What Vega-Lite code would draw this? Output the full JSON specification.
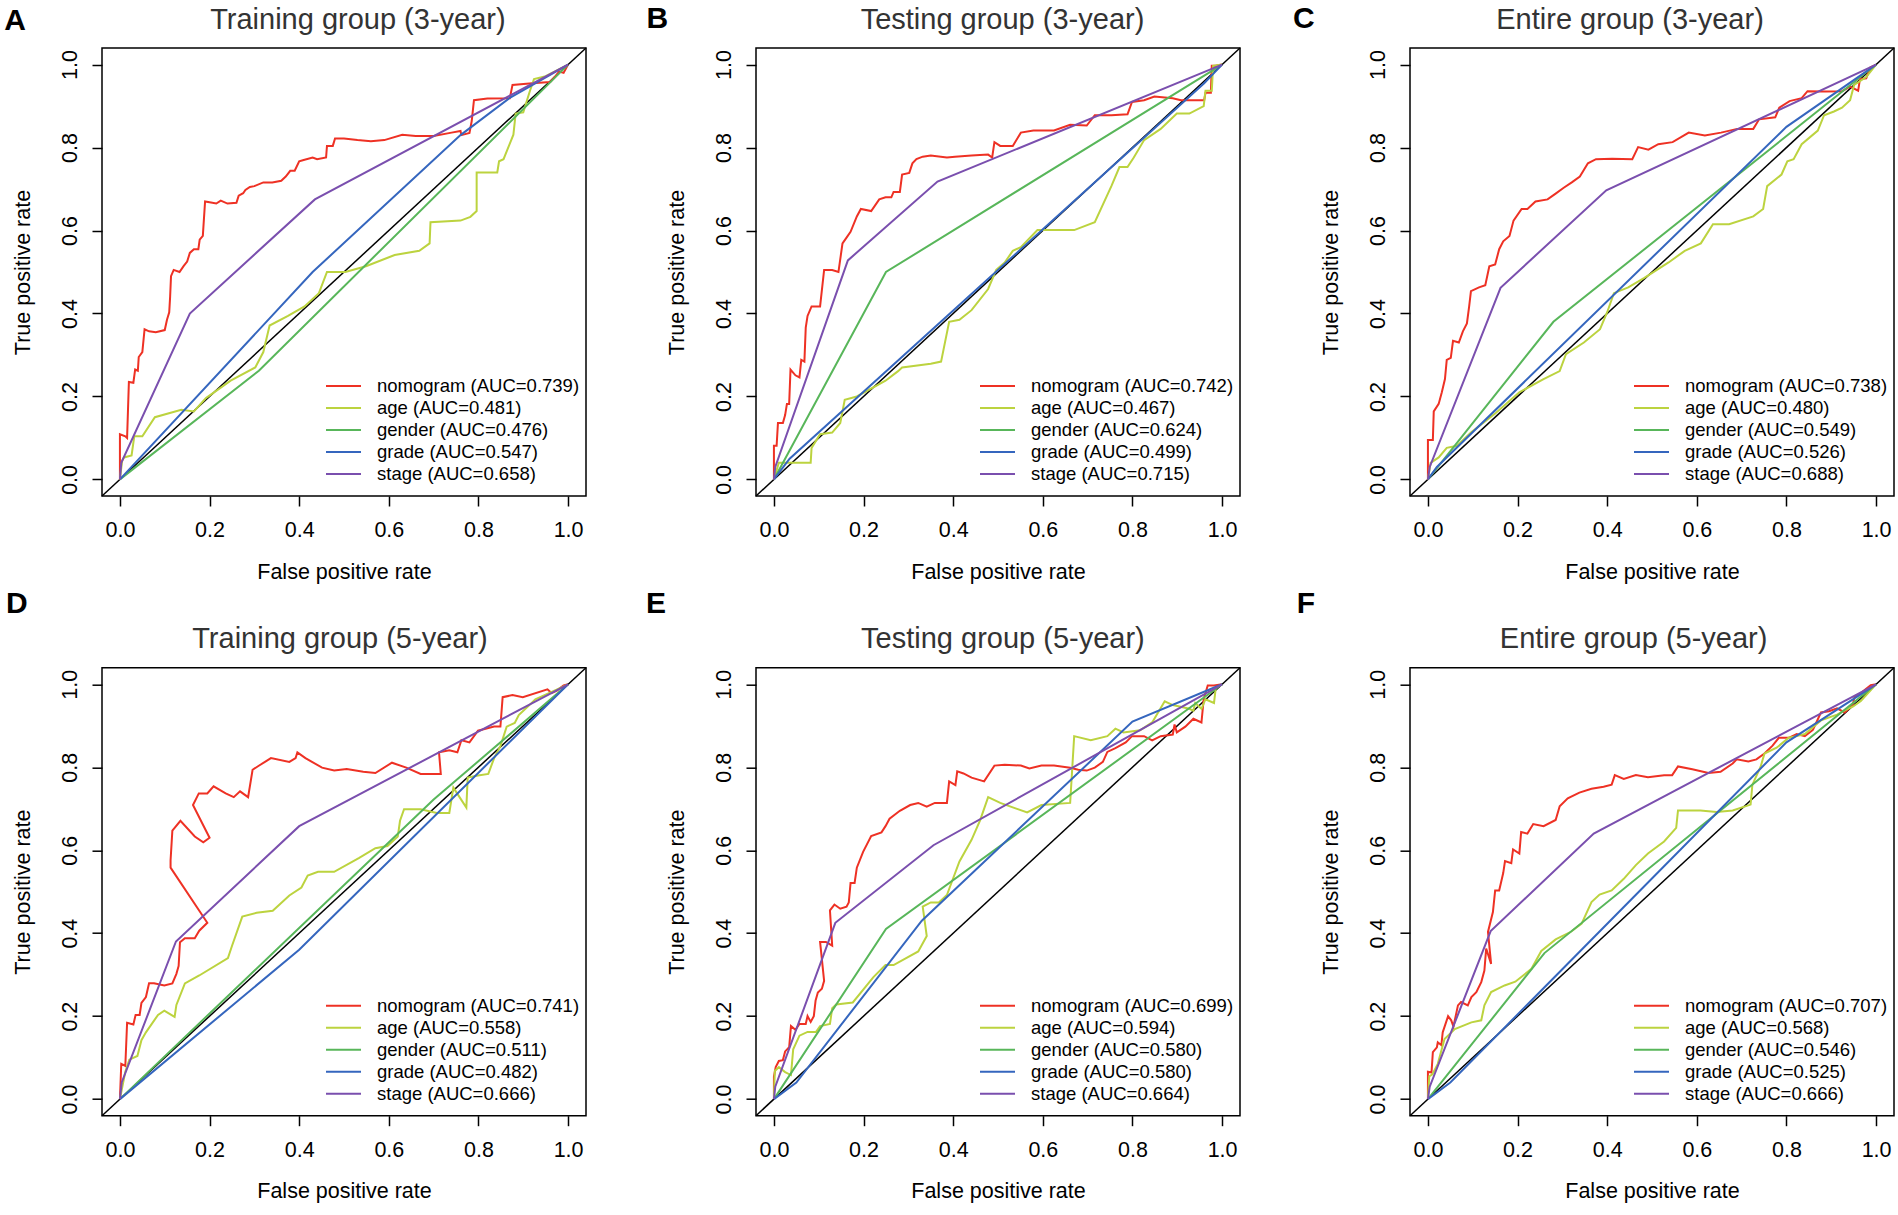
{
"$schema":"https://vega.github.io/schema/vega-lite/v6.json",
"background":"white",
"padding":{"left":3,"top":3,"right":4,"bottom":4},
"columns":3,
"spacing":{"row":171.7,"column":170},
"bounds":"flush",
"resolve":{"scale":{"color":"independent"},"legend":{"color":"independent"}},
"config":{
 "view":{"stroke":"black","strokeWidth":1.5},
 "font":"Liberation Sans",
 "axis":{"grid":false,"domain":false,"ticks":true,"tickColor":"black","tickWidth":1.5,"tickSize":10,"format":".1f","labelFont":"Liberation Sans","labelFontSize":21.5,"labelColor":"black","labelFlush":false,"labelOverlap":false,"titleFont":"Liberation Sans","titleFontSize":21.5,"titleFontWeight":"normal","titleColor":"black"},
 "axisX":{"labelBaseline":"alphabetic","labelPadding":30.6,"titleBaseline":"alphabetic","titleY":82},
 "axisY":{"labelAngle":-90,"labelAlign":"center","labelBaseline":"alphabetic","labelPadding":16,"titleAngle":-90,"titleAlign":"center","titleBaseline":"alphabetic","titleX":-72.4,"titleY":224},
 "legend":{"orient":"none","legendX":223,"legendY":327,"symbolType":"stroke","symbolSize":1225,"symbolStrokeWidth":2,"labelFont":"Liberation Sans","labelFontSize":18.5,"labelColor":"black","labelOffset":15,"labelLimit":400,"clipHeight":22,"rowPadding":0,"padding":0}
},
"concat":[
{"width":484,"height":448,
 "layer":[
 {"data":{"values":[{}]},"mark":{"type":"rule","color":"black","strokeWidth":1.5},
  "encoding":{"x":{"datum":-0.04,"type":"quantitative","scale":{"domain":[-0.04,1.04],"nice":false,"zero":false},"axis":{"title":"False positive rate","values":[0,0.2,0.4,0.6,0.8,1]}},"y":{"datum":-0.04,"type":"quantitative","scale":{"domain":[-0.04,1.04],"nice":false,"zero":false},"axis":{"title":"True positive rate","values":[0,0.2,0.4,0.6,0.8,1]}},"x2":{"datum":1.04},"y2":{"datum":1.04}}},
 {"data":{"name":"A"},"mark":{"type":"line","strokeWidth":2,"clip":true},
  "encoding":{"x":{"field":"x","type":"quantitative","scale":{"domain":[-0.04,1.04],"nice":false,"zero":false},"axis":{"title":"False positive rate","values":[0,0.2,0.4,0.6,0.8,1]}},"y":{"field":"y","type":"quantitative","scale":{"domain":[-0.04,1.04],"nice":false,"zero":false},"axis":{"title":"True positive rate","values":[0,0.2,0.4,0.6,0.8,1]}},
  "color":{"field":"s","type":"nominal","scale":{"domain":["nomogram","age","gender","grade","stage"],"range":["#EE3124","#BCD33F","#58B65A","#3566BE","#7A4FAE"]},"legend":{"title":null,"orient":"none","legendX":223,"legendY":327,"labelLimit":400,"labelExpr":"datum.label=='nomogram'?'nomogram (AUC=0.739)':datum.label=='age'?'age (AUC=0.481)':datum.label=='gender'?'gender (AUC=0.476)':datum.label=='grade'?'grade (AUC=0.547)':'stage (AUC=0.658)'"}},
  "order":{"value":null}}},
 {"data":{"values":[{}]},"mark":{"type":"text","font":"Liberation Sans","fontSize":30,"fontWeight":"bold","color":"black","align":"center","baseline":"middle"},
  "encoding":{"x":{"datum":-0.234,"type":"quantitative"},"y":{"datum":1.106,"type":"quantitative"},"text":{"value":"A"}}},
 {"data":{"values":[{}]},"mark":{"type":"text","font":"Liberation Sans","fontSize":29,"color":"#333333","align":"center","baseline":"alphabetic"},
  "encoding":{"x":{"datum":0.531,"type":"quantitative"},"y":{"datum":1.087,"type":"quantitative"},"text":{"value":"Training group (3-year)"}}}
 ]},
{"width":484,"height":448,
 "layer":[
 {"data":{"values":[{}]},"mark":{"type":"rule","color":"black","strokeWidth":1.5},
  "encoding":{"x":{"datum":-0.04,"type":"quantitative","scale":{"domain":[-0.04,1.04],"nice":false,"zero":false},"axis":{"title":"False positive rate","values":[0,0.2,0.4,0.6,0.8,1]}},"y":{"datum":-0.04,"type":"quantitative","scale":{"domain":[-0.04,1.04],"nice":false,"zero":false},"axis":{"title":"True positive rate","values":[0,0.2,0.4,0.6,0.8,1]}},"x2":{"datum":1.04},"y2":{"datum":1.04}}},
 {"data":{"name":"B"},"mark":{"type":"line","strokeWidth":2,"clip":true},
  "encoding":{"x":{"field":"x","type":"quantitative","scale":{"domain":[-0.04,1.04],"nice":false,"zero":false},"axis":{"title":"False positive rate","values":[0,0.2,0.4,0.6,0.8,1]}},"y":{"field":"y","type":"quantitative","scale":{"domain":[-0.04,1.04],"nice":false,"zero":false},"axis":{"title":"True positive rate","values":[0,0.2,0.4,0.6,0.8,1]}},
  "color":{"field":"s","type":"nominal","scale":{"domain":["nomogram","age","gender","grade","stage"],"range":["#EE3124","#BCD33F","#58B65A","#3566BE","#7A4FAE"]},"legend":{"title":null,"orient":"none","legendX":223,"legendY":327,"labelLimit":400,"labelExpr":"datum.label=='nomogram'?'nomogram (AUC=0.742)':datum.label=='age'?'age (AUC=0.467)':datum.label=='gender'?'gender (AUC=0.624)':datum.label=='grade'?'grade (AUC=0.499)':'stage (AUC=0.715)'"}},
  "order":{"value":null}}},
 {"data":{"values":[{}]},"mark":{"type":"text","font":"Liberation Sans","fontSize":30,"fontWeight":"bold","color":"black","align":"center","baseline":"middle"},
  "encoding":{"x":{"datum":-0.26,"type":"quantitative"},"y":{"datum":1.11,"type":"quantitative"},"text":{"value":"B"}}},
 {"data":{"values":[{}]},"mark":{"type":"text","font":"Liberation Sans","fontSize":29,"color":"#333333","align":"center","baseline":"alphabetic"},
  "encoding":{"x":{"datum":0.51,"type":"quantitative"},"y":{"datum":1.087,"type":"quantitative"},"text":{"value":"Testing group (3-year)"}}}
 ]},
{"width":484,"height":448,
 "layer":[
 {"data":{"values":[{}]},"mark":{"type":"rule","color":"black","strokeWidth":1.5},
  "encoding":{"x":{"datum":-0.04,"type":"quantitative","scale":{"domain":[-0.04,1.04],"nice":false,"zero":false},"axis":{"title":"False positive rate","values":[0,0.2,0.4,0.6,0.8,1]}},"y":{"datum":-0.04,"type":"quantitative","scale":{"domain":[-0.04,1.04],"nice":false,"zero":false},"axis":{"title":"True positive rate","values":[0,0.2,0.4,0.6,0.8,1]}},"x2":{"datum":1.04},"y2":{"datum":1.04}}},
 {"data":{"name":"C"},"mark":{"type":"line","strokeWidth":2,"clip":true},
  "encoding":{"x":{"field":"x","type":"quantitative","scale":{"domain":[-0.04,1.04],"nice":false,"zero":false},"axis":{"title":"False positive rate","values":[0,0.2,0.4,0.6,0.8,1]}},"y":{"field":"y","type":"quantitative","scale":{"domain":[-0.04,1.04],"nice":false,"zero":false},"axis":{"title":"True positive rate","values":[0,0.2,0.4,0.6,0.8,1]}},
  "color":{"field":"s","type":"nominal","scale":{"domain":["nomogram","age","gender","grade","stage"],"range":["#EE3124","#BCD33F","#58B65A","#3566BE","#7A4FAE"]},"legend":{"title":null,"orient":"none","legendX":223,"legendY":327,"labelLimit":400,"labelExpr":"datum.label=='nomogram'?'nomogram (AUC=0.738)':datum.label=='age'?'age (AUC=0.480)':datum.label=='gender'?'gender (AUC=0.549)':datum.label=='grade'?'grade (AUC=0.526)':'stage (AUC=0.688)'"}},
  "order":{"value":null}}},
 {"data":{"values":[{}]},"mark":{"type":"text","font":"Liberation Sans","fontSize":30,"fontWeight":"bold","color":"black","align":"center","baseline":"middle"},
  "encoding":{"x":{"datum":-0.277,"type":"quantitative"},"y":{"datum":1.11,"type":"quantitative"},"text":{"value":"C"}}},
 {"data":{"values":[{}]},"mark":{"type":"text","font":"Liberation Sans","fontSize":29,"color":"#333333","align":"center","baseline":"alphabetic"},
  "encoding":{"x":{"datum":0.451,"type":"quantitative"},"y":{"datum":1.087,"type":"quantitative"},"text":{"value":"Entire group (3-year)"}}}
 ]},
{"width":484,"height":448,
 "layer":[
 {"data":{"values":[{}]},"mark":{"type":"rule","color":"black","strokeWidth":1.5},
  "encoding":{"x":{"datum":-0.04,"type":"quantitative","scale":{"domain":[-0.04,1.04],"nice":false,"zero":false},"axis":{"title":"False positive rate","values":[0,0.2,0.4,0.6,0.8,1]}},"y":{"datum":-0.04,"type":"quantitative","scale":{"domain":[-0.04,1.04],"nice":false,"zero":false},"axis":{"title":"True positive rate","values":[0,0.2,0.4,0.6,0.8,1]}},"x2":{"datum":1.04},"y2":{"datum":1.04}}},
 {"data":{"name":"D"},"mark":{"type":"line","strokeWidth":2,"clip":true},
  "encoding":{"x":{"field":"x","type":"quantitative","scale":{"domain":[-0.04,1.04],"nice":false,"zero":false},"axis":{"title":"False positive rate","values":[0,0.2,0.4,0.6,0.8,1]}},"y":{"field":"y","type":"quantitative","scale":{"domain":[-0.04,1.04],"nice":false,"zero":false},"axis":{"title":"True positive rate","values":[0,0.2,0.4,0.6,0.8,1]}},
  "color":{"field":"s","type":"nominal","scale":{"domain":["nomogram","age","gender","grade","stage"],"range":["#EE3124","#BCD33F","#58B65A","#3566BE","#7A4FAE"]},"legend":{"title":null,"orient":"none","legendX":223,"legendY":327,"labelLimit":400,"labelExpr":"datum.label=='nomogram'?'nomogram (AUC=0.741)':datum.label=='age'?'age (AUC=0.558)':datum.label=='gender'?'gender (AUC=0.511)':datum.label=='grade'?'grade (AUC=0.482)':'stage (AUC=0.666)'"}},
  "order":{"value":null}}},
 {"data":{"values":[{}]},"mark":{"type":"text","font":"Liberation Sans","fontSize":30,"fontWeight":"bold","color":"black","align":"center","baseline":"middle"},
  "encoding":{"x":{"datum":-0.23,"type":"quantitative"},"y":{"datum":1.194,"type":"quantitative"},"text":{"value":"D"}}},
 {"data":{"values":[{}]},"mark":{"type":"text","font":"Liberation Sans","fontSize":29,"color":"#333333","align":"center","baseline":"alphabetic"},
  "encoding":{"x":{"datum":0.491,"type":"quantitative"},"y":{"datum":1.087,"type":"quantitative"},"text":{"value":"Training group (5-year)"}}}
 ]},
{"width":484,"height":448,
 "layer":[
 {"data":{"values":[{}]},"mark":{"type":"rule","color":"black","strokeWidth":1.5},
  "encoding":{"x":{"datum":-0.04,"type":"quantitative","scale":{"domain":[-0.04,1.04],"nice":false,"zero":false},"axis":{"title":"False positive rate","values":[0,0.2,0.4,0.6,0.8,1]}},"y":{"datum":-0.04,"type":"quantitative","scale":{"domain":[-0.04,1.04],"nice":false,"zero":false},"axis":{"title":"True positive rate","values":[0,0.2,0.4,0.6,0.8,1]}},"x2":{"datum":1.04},"y2":{"datum":1.04}}},
 {"data":{"name":"E"},"mark":{"type":"line","strokeWidth":2,"clip":true},
  "encoding":{"x":{"field":"x","type":"quantitative","scale":{"domain":[-0.04,1.04],"nice":false,"zero":false},"axis":{"title":"False positive rate","values":[0,0.2,0.4,0.6,0.8,1]}},"y":{"field":"y","type":"quantitative","scale":{"domain":[-0.04,1.04],"nice":false,"zero":false},"axis":{"title":"True positive rate","values":[0,0.2,0.4,0.6,0.8,1]}},
  "color":{"field":"s","type":"nominal","scale":{"domain":["nomogram","age","gender","grade","stage"],"range":["#EE3124","#BCD33F","#58B65A","#3566BE","#7A4FAE"]},"legend":{"title":null,"orient":"none","legendX":223,"legendY":327,"labelLimit":400,"labelExpr":"datum.label=='nomogram'?'nomogram (AUC=0.699)':datum.label=='age'?'age (AUC=0.594)':datum.label=='gender'?'gender (AUC=0.580)':datum.label=='grade'?'grade (AUC=0.580)':'stage (AUC=0.664)'"}},
  "order":{"value":null}}},
 {"data":{"values":[{}]},"mark":{"type":"text","font":"Liberation Sans","fontSize":30,"fontWeight":"bold","color":"black","align":"center","baseline":"middle"},
  "encoding":{"x":{"datum":-0.263,"type":"quantitative"},"y":{"datum":1.194,"type":"quantitative"},"text":{"value":"E"}}},
 {"data":{"values":[{}]},"mark":{"type":"text","font":"Liberation Sans","fontSize":29,"color":"#333333","align":"center","baseline":"alphabetic"},
  "encoding":{"x":{"datum":0.511,"type":"quantitative"},"y":{"datum":1.087,"type":"quantitative"},"text":{"value":"Testing group (5-year)"}}}
 ]},
{"width":484,"height":448,
 "layer":[
 {"data":{"values":[{}]},"mark":{"type":"rule","color":"black","strokeWidth":1.5},
  "encoding":{"x":{"datum":-0.04,"type":"quantitative","scale":{"domain":[-0.04,1.04],"nice":false,"zero":false},"axis":{"title":"False positive rate","values":[0,0.2,0.4,0.6,0.8,1]}},"y":{"datum":-0.04,"type":"quantitative","scale":{"domain":[-0.04,1.04],"nice":false,"zero":false},"axis":{"title":"True positive rate","values":[0,0.2,0.4,0.6,0.8,1]}},"x2":{"datum":1.04},"y2":{"datum":1.04}}},
 {"data":{"name":"F"},"mark":{"type":"line","strokeWidth":2,"clip":true},
  "encoding":{"x":{"field":"x","type":"quantitative","scale":{"domain":[-0.04,1.04],"nice":false,"zero":false},"axis":{"title":"False positive rate","values":[0,0.2,0.4,0.6,0.8,1]}},"y":{"field":"y","type":"quantitative","scale":{"domain":[-0.04,1.04],"nice":false,"zero":false},"axis":{"title":"True positive rate","values":[0,0.2,0.4,0.6,0.8,1]}},
  "color":{"field":"s","type":"nominal","scale":{"domain":["nomogram","age","gender","grade","stage"],"range":["#EE3124","#BCD33F","#58B65A","#3566BE","#7A4FAE"]},"legend":{"title":null,"orient":"none","legendX":223,"legendY":327,"labelLimit":400,"labelExpr":"datum.label=='nomogram'?'nomogram (AUC=0.707)':datum.label=='age'?'age (AUC=0.568)':datum.label=='gender'?'gender (AUC=0.546)':datum.label=='grade'?'grade (AUC=0.525)':'stage (AUC=0.666)'"}},
  "order":{"value":null}}},
 {"data":{"values":[{}]},"mark":{"type":"text","font":"Liberation Sans","fontSize":30,"fontWeight":"bold","color":"black","align":"center","baseline":"middle"},
  "encoding":{"x":{"datum":-0.272,"type":"quantitative"},"y":{"datum":1.194,"type":"quantitative"},"text":{"value":"F"}}},
 {"data":{"values":[{}]},"mark":{"type":"text","font":"Liberation Sans","fontSize":29,"color":"#333333","align":"center","baseline":"alphabetic"},
  "encoding":{"x":{"datum":0.459,"type":"quantitative"},"y":{"datum":1.087,"type":"quantitative"},"text":{"value":"Entire group (5-year)"}}}
 ]}
],
"datasets":{
"A":[
{"s":"nomogram","x":0,"y":0},{"s":"nomogram","x":0,"y":0.109},{"s":"nomogram","x":0.012,"y":0.104},{"s":"nomogram","x":0.016,"y":0.1},{"s":"nomogram","x":0.02,"y":0.235},{"s":"nomogram","x":0.03,"y":0.233},{"s":"nomogram","x":0.034,"y":0.265},{"s":"nomogram","x":0.04,"y":0.262},{"s":"nomogram","x":0.042,"y":0.295},{"s":"nomogram","x":0.05,"y":0.307},{"s":"nomogram","x":0.055,"y":0.362},{"s":"nomogram","x":0.065,"y":0.357},{"s":"nomogram","x":0.08,"y":0.355},{"s":"nomogram","x":0.1,"y":0.36},{"s":"nomogram","x":0.105,"y":0.385},{"s":"nomogram","x":0.11,"y":0.403},{"s":"nomogram","x":0.112,"y":0.44},{"s":"nomogram","x":0.114,"y":0.49},{"s":"nomogram","x":0.12,"y":0.505},{"s":"nomogram","x":0.133,"y":0.5},{"s":"nomogram","x":0.142,"y":0.514},{"s":"nomogram","x":0.15,"y":0.525},{"s":"nomogram","x":0.156,"y":0.546},{"s":"nomogram","x":0.165,"y":0.555},{"s":"nomogram","x":0.175,"y":0.555},{"s":"nomogram","x":0.178,"y":0.578},{"s":"nomogram","x":0.185,"y":0.587},{"s":"nomogram","x":0.19,"y":0.67},{"s":"nomogram","x":0.2,"y":0.668},{"s":"nomogram","x":0.215,"y":0.665},{"s":"nomogram","x":0.225,"y":0.672},{"s":"nomogram","x":0.24,"y":0.665},{"s":"nomogram","x":0.26,"y":0.667},{"s":"nomogram","x":0.265,"y":0.684},{"s":"nomogram","x":0.275,"y":0.69},{"s":"nomogram","x":0.28,"y":0.698},{"s":"nomogram","x":0.29,"y":0.705},{"s":"nomogram","x":0.3,"y":0.707},{"s":"nomogram","x":0.32,"y":0.716},{"s":"nomogram","x":0.34,"y":0.716},{"s":"nomogram","x":0.36,"y":0.72},{"s":"nomogram","x":0.37,"y":0.73},{"s":"nomogram","x":0.38,"y":0.744},{"s":"nomogram","x":0.39,"y":0.744},{"s":"nomogram","x":0.4,"y":0.767},{"s":"nomogram","x":0.41,"y":0.77},{"s":"nomogram","x":0.43,"y":0.776},{"s":"nomogram","x":0.44,"y":0.772},{"s":"nomogram","x":0.46,"y":0.776},{"s":"nomogram","x":0.462,"y":0.804},{"s":"nomogram","x":0.475,"y":0.804},{"s":"nomogram","x":0.48,"y":0.822},{"s":"nomogram","x":0.5,"y":0.822},{"s":"nomogram","x":0.53,"y":0.818},{"s":"nomogram","x":0.56,"y":0.815},{"s":"nomogram","x":0.59,"y":0.818},{"s":"nomogram","x":0.63,"y":0.831},{"s":"nomogram","x":0.66,"y":0.828},{"s":"nomogram","x":0.7,"y":0.828},{"s":"nomogram","x":0.74,"y":0.836},{"s":"nomogram","x":0.76,"y":0.84},{"s":"nomogram","x":0.762,"y":0.83},{"s":"nomogram","x":0.78,"y":0.835},{"s":"nomogram","x":0.785,"y":0.864},{"s":"nomogram","x":0.79,"y":0.914},{"s":"nomogram","x":0.82,"y":0.918},{"s":"nomogram","x":0.87,"y":0.919},{"s":"nomogram","x":0.876,"y":0.951},{"s":"nomogram","x":0.92,"y":0.955},{"s":"nomogram","x":0.96,"y":0.958},{"s":"nomogram","x":0.97,"y":0.97},{"s":"nomogram","x":0.98,"y":0.983},{"s":"nomogram","x":0.99,"y":0.98},{"s":"nomogram","x":1,"y":1},
{"s":"age","x":0,"y":0},{"s":"age","x":0.005,"y":0.045},{"s":"age","x":0.009,"y":0.053},{"s":"age","x":0.026,"y":0.058},{"s":"age","x":0.032,"y":0.104},{"s":"age","x":0.05,"y":0.104},{"s":"age","x":0.078,"y":0.15},{"s":"age","x":0.137,"y":0.168},{"s":"age","x":0.165,"y":0.164},{"s":"age","x":0.192,"y":0.196},{"s":"age","x":0.247,"y":0.238},{"s":"age","x":0.302,"y":0.27},{"s":"age","x":0.32,"y":0.307},{"s":"age","x":0.334,"y":0.371},{"s":"age","x":0.375,"y":0.394},{"s":"age","x":0.412,"y":0.417},{"s":"age","x":0.444,"y":0.449},{"s":"age","x":0.462,"y":0.5},{"s":"age","x":0.503,"y":0.5},{"s":"age","x":0.549,"y":0.514},{"s":"age","x":0.613,"y":0.541},{"s":"age","x":0.668,"y":0.551},{"s":"age","x":0.691,"y":0.569},{"s":"age","x":0.693,"y":0.62},{"s":"age","x":0.76,"y":0.624},{"s":"age","x":0.782,"y":0.633},{"s":"age","x":0.796,"y":0.647},{"s":"age","x":0.796,"y":0.74},{"s":"age","x":0.842,"y":0.74},{"s":"age","x":0.846,"y":0.767},{"s":"age","x":0.856,"y":0.772},{"s":"age","x":0.878,"y":0.831},{"s":"age","x":0.883,"y":0.882},{"s":"age","x":0.9,"y":0.885},{"s":"age","x":0.915,"y":0.937},{"s":"age","x":0.924,"y":0.965},{"s":"age","x":0.95,"y":0.972},{"s":"age","x":1,"y":1},
{"s":"gender","x":0,"y":0},{"s":"gender","x":0.31,"y":0.262},{"s":"gender","x":1,"y":1},
{"s":"grade","x":0,"y":0},{"s":"grade","x":0.43,"y":0.5},{"s":"grade","x":0.76,"y":0.83},{"s":"grade","x":0.87,"y":0.92},{"s":"grade","x":1,"y":1},
{"s":"stage","x":0,"y":0},{"s":"stage","x":0.003,"y":0.04},{"s":"stage","x":0.156,"y":0.4},{"s":"stage","x":0.435,"y":0.675},{"s":"stage","x":0.87,"y":0.925},{"s":"stage","x":1,"y":1}
],
"B":[
{"s":"nomogram","x":0,"y":0},{"s":"nomogram","x":0,"y":0.081},{"s":"nomogram","x":0.006,"y":0.081},{"s":"nomogram","x":0.009,"y":0.136},{"s":"nomogram","x":0.02,"y":0.136},{"s":"nomogram","x":0.025,"y":0.155},{"s":"nomogram","x":0.029,"y":0.182},{"s":"nomogram","x":0.034,"y":0.182},{"s":"nomogram","x":0.037,"y":0.265},{"s":"nomogram","x":0.048,"y":0.251},{"s":"nomogram","x":0.057,"y":0.246},{"s":"nomogram","x":0.061,"y":0.288},{"s":"nomogram","x":0.068,"y":0.284},{"s":"nomogram","x":0.071,"y":0.366},{"s":"nomogram","x":0.075,"y":0.394},{"s":"nomogram","x":0.084,"y":0.417},{"s":"nomogram","x":0.103,"y":0.417},{"s":"nomogram","x":0.112,"y":0.505},{"s":"nomogram","x":0.13,"y":0.505},{"s":"nomogram","x":0.144,"y":0.5},{"s":"nomogram","x":0.153,"y":0.569},{"s":"nomogram","x":0.162,"y":0.583},{"s":"nomogram","x":0.171,"y":0.597},{"s":"nomogram","x":0.185,"y":0.634},{"s":"nomogram","x":0.194,"y":0.652},{"s":"nomogram","x":0.217,"y":0.647},{"s":"nomogram","x":0.235,"y":0.675},{"s":"nomogram","x":0.249,"y":0.68},{"s":"nomogram","x":0.262,"y":0.68},{"s":"nomogram","x":0.267,"y":0.693},{"s":"nomogram","x":0.281,"y":0.693},{"s":"nomogram","x":0.286,"y":0.735},{"s":"nomogram","x":0.302,"y":0.739},{"s":"nomogram","x":0.309,"y":0.762},{"s":"nomogram","x":0.318,"y":0.772},{"s":"nomogram","x":0.332,"y":0.778},{"s":"nomogram","x":0.35,"y":0.781},{"s":"nomogram","x":0.386,"y":0.776},{"s":"nomogram","x":0.404,"y":0.778},{"s":"nomogram","x":0.441,"y":0.781},{"s":"nomogram","x":0.478,"y":0.783},{"s":"nomogram","x":0.487,"y":0.776},{"s":"nomogram","x":0.492,"y":0.813},{"s":"nomogram","x":0.505,"y":0.804},{"s":"nomogram","x":0.533,"y":0.804},{"s":"nomogram","x":0.551,"y":0.836},{"s":"nomogram","x":0.579,"y":0.841},{"s":"nomogram","x":0.625,"y":0.841},{"s":"nomogram","x":0.661,"y":0.855},{"s":"nomogram","x":0.698,"y":0.853},{"s":"nomogram","x":0.716,"y":0.878},{"s":"nomogram","x":0.753,"y":0.878},{"s":"nomogram","x":0.789,"y":0.88},{"s":"nomogram","x":0.799,"y":0.91},{"s":"nomogram","x":0.826,"y":0.914},{"s":"nomogram","x":0.849,"y":0.923},{"s":"nomogram","x":0.89,"y":0.919},{"s":"nomogram","x":0.908,"y":0.914},{"s":"nomogram","x":0.945,"y":0.914},{"s":"nomogram","x":0.96,"y":0.914},{"s":"nomogram","x":0.963,"y":0.932},{"s":"nomogram","x":0.975,"y":0.932},{"s":"nomogram","x":0.977,"y":0.997},{"s":"nomogram","x":0.986,"y":0.997},{"s":"nomogram","x":1,"y":1},
{"s":"age","x":0,"y":0},{"s":"age","x":0.011,"y":0.04},{"s":"age","x":0.082,"y":0.04},{"s":"age","x":0.084,"y":0.076},{"s":"age","x":0.103,"y":0.109},{"s":"age","x":0.13,"y":0.113},{"s":"age","x":0.148,"y":0.136},{"s":"age","x":0.158,"y":0.192},{"s":"age","x":0.185,"y":0.2},{"s":"age","x":0.249,"y":0.238},{"s":"age","x":0.277,"y":0.261},{"s":"age","x":0.286,"y":0.27},{"s":"age","x":0.35,"y":0.279},{"s":"age","x":0.373,"y":0.284},{"s":"age","x":0.391,"y":0.38},{"s":"age","x":0.414,"y":0.385},{"s":"age","x":0.441,"y":0.408},{"s":"age","x":0.478,"y":0.459},{"s":"age","x":0.496,"y":0.505},{"s":"age","x":0.515,"y":0.523},{"s":"age","x":0.533,"y":0.551},{"s":"age","x":0.551,"y":0.56},{"s":"age","x":0.588,"y":0.601},{"s":"age","x":0.615,"y":0.601},{"s":"age","x":0.67,"y":0.601},{"s":"age","x":0.716,"y":0.62},{"s":"age","x":0.753,"y":0.707},{"s":"age","x":0.771,"y":0.753},{"s":"age","x":0.789,"y":0.753},{"s":"age","x":0.803,"y":0.776},{"s":"age","x":0.826,"y":0.818},{"s":"age","x":0.863,"y":0.845},{"s":"age","x":0.899,"y":0.882},{"s":"age","x":0.927,"y":0.882},{"s":"age","x":0.959,"y":0.9},{"s":"age","x":0.963,"y":0.937},{"s":"age","x":0.977,"y":0.937},{"s":"age","x":0.98,"y":0.997},{"s":"age","x":1,"y":1},
{"s":"gender","x":0,"y":0},{"s":"gender","x":0.25,"y":0.5},{"s":"gender","x":1,"y":1},
{"s":"grade","x":0,"y":0},{"s":"grade","x":0.035,"y":0.05},{"s":"grade","x":0.96,"y":0.955},{"s":"grade","x":1,"y":1},
{"s":"stage","x":0,"y":0},{"s":"stage","x":0.003,"y":0.03},{"s":"stage","x":0.165,"y":0.528},{"s":"stage","x":0.365,"y":0.718},{"s":"stage","x":1,"y":1}
],
"C":[
{"s":"nomogram","x":0,"y":0},{"s":"nomogram","x":0,"y":0.095},{"s":"nomogram","x":0.011,"y":0.095},{"s":"nomogram","x":0.013,"y":0.164},{"s":"nomogram","x":0.024,"y":0.182},{"s":"nomogram","x":0.031,"y":0.21},{"s":"nomogram","x":0.038,"y":0.242},{"s":"nomogram","x":0.042,"y":0.288},{"s":"nomogram","x":0.051,"y":0.293},{"s":"nomogram","x":0.056,"y":0.334},{"s":"nomogram","x":0.069,"y":0.33},{"s":"nomogram","x":0.078,"y":0.357},{"s":"nomogram","x":0.087,"y":0.376},{"s":"nomogram","x":0.092,"y":0.417},{"s":"nomogram","x":0.096,"y":0.454},{"s":"nomogram","x":0.114,"y":0.463},{"s":"nomogram","x":0.128,"y":0.468},{"s":"nomogram","x":0.137,"y":0.514},{"s":"nomogram","x":0.15,"y":0.518},{"s":"nomogram","x":0.159,"y":0.555},{"s":"nomogram","x":0.168,"y":0.574},{"s":"nomogram","x":0.182,"y":0.587},{"s":"nomogram","x":0.191,"y":0.624},{"s":"nomogram","x":0.209,"y":0.652},{"s":"nomogram","x":0.222,"y":0.652},{"s":"nomogram","x":0.24,"y":0.67},{"s":"nomogram","x":0.267,"y":0.675},{"s":"nomogram","x":0.285,"y":0.689},{"s":"nomogram","x":0.303,"y":0.703},{"s":"nomogram","x":0.321,"y":0.716},{"s":"nomogram","x":0.339,"y":0.73},{"s":"nomogram","x":0.357,"y":0.762},{"s":"nomogram","x":0.375,"y":0.772},{"s":"nomogram","x":0.411,"y":0.773},{"s":"nomogram","x":0.456,"y":0.772},{"s":"nomogram","x":0.469,"y":0.801},{"s":"nomogram","x":0.492,"y":0.795},{"s":"nomogram","x":0.514,"y":0.808},{"s":"nomogram","x":0.546,"y":0.813},{"s":"nomogram","x":0.582,"y":0.836},{"s":"nomogram","x":0.618,"y":0.829},{"s":"nomogram","x":0.654,"y":0.836},{"s":"nomogram","x":0.69,"y":0.845},{"s":"nomogram","x":0.726,"y":0.845},{"s":"nomogram","x":0.739,"y":0.868},{"s":"nomogram","x":0.775,"y":0.873},{"s":"nomogram","x":0.784,"y":0.896},{"s":"nomogram","x":0.807,"y":0.912},{"s":"nomogram","x":0.834,"y":0.919},{"s":"nomogram","x":0.847,"y":0.936},{"s":"nomogram","x":0.888,"y":0.935},{"s":"nomogram","x":0.924,"y":0.936},{"s":"nomogram","x":0.942,"y":0.947},{"s":"nomogram","x":0.96,"y":0.937},{"s":"nomogram","x":0.964,"y":0.965},{"s":"nomogram","x":0.978,"y":0.967},{"s":"nomogram","x":0.987,"y":0.993},{"s":"nomogram","x":1,"y":1},
{"s":"age","x":0,"y":0},{"s":"age","x":0.006,"y":0.04},{"s":"age","x":0.024,"y":0.053},{"s":"age","x":0.042,"y":0.076},{"s":"age","x":0.065,"y":0.081},{"s":"age","x":0.096,"y":0.113},{"s":"age","x":0.15,"y":0.159},{"s":"age","x":0.204,"y":0.21},{"s":"age","x":0.258,"y":0.242},{"s":"age","x":0.294,"y":0.261},{"s":"age","x":0.308,"y":0.302},{"s":"age","x":0.348,"y":0.33},{"s":"age","x":0.384,"y":0.362},{"s":"age","x":0.4,"y":0.403},{"s":"age","x":0.415,"y":0.449},{"s":"age","x":0.447,"y":0.463},{"s":"age","x":0.483,"y":0.486},{"s":"age","x":0.537,"y":0.523},{"s":"age","x":0.573,"y":0.551},{"s":"age","x":0.609,"y":0.569},{"s":"age","x":0.636,"y":0.615},{"s":"age","x":0.672,"y":0.615},{"s":"age","x":0.726,"y":0.634},{"s":"age","x":0.748,"y":0.652},{"s":"age","x":0.757,"y":0.707},{"s":"age","x":0.789,"y":0.735},{"s":"age","x":0.802,"y":0.767},{"s":"age","x":0.816,"y":0.772},{"s":"age","x":0.834,"y":0.808},{"s":"age","x":0.87,"y":0.841},{"s":"age","x":0.884,"y":0.878},{"s":"age","x":0.906,"y":0.887},{"s":"age","x":0.924,"y":0.896},{"s":"age","x":0.942,"y":0.914},{"s":"age","x":0.951,"y":0.951},{"s":"age","x":0.978,"y":0.97},{"s":"age","x":1,"y":1},
{"s":"gender","x":0,"y":0},{"s":"gender","x":0.28,"y":0.38},{"s":"gender","x":1,"y":1},
{"s":"grade","x":0,"y":0},{"s":"grade","x":0.02,"y":0.03},{"s":"grade","x":0.8,"y":0.85},{"s":"grade","x":1,"y":1},
{"s":"stage","x":0,"y":0},{"s":"stage","x":0.004,"y":0.03},{"s":"stage","x":0.162,"y":0.462},{"s":"stage","x":0.398,"y":0.697},{"s":"stage","x":1,"y":1}
],
"D":[
{"s":"nomogram","x":0,"y":0},{"s":"nomogram","x":0.003,"y":0.085},{"s":"nomogram","x":0.012,"y":0.08},{"s":"nomogram","x":0.016,"y":0.184},{"s":"nomogram","x":0.03,"y":0.18},{"s":"nomogram","x":0.035,"y":0.203},{"s":"nomogram","x":0.044,"y":0.203},{"s":"nomogram","x":0.048,"y":0.232},{"s":"nomogram","x":0.058,"y":0.246},{"s":"nomogram","x":0.065,"y":0.279},{"s":"nomogram","x":0.076,"y":0.279},{"s":"nomogram","x":0.099,"y":0.274},{"s":"nomogram","x":0.117,"y":0.279},{"s":"nomogram","x":0.126,"y":0.302},{"s":"nomogram","x":0.131,"y":0.321},{"s":"nomogram","x":0.134,"y":0.378},{"s":"nomogram","x":0.145,"y":0.388},{"s":"nomogram","x":0.167,"y":0.388},{"s":"nomogram","x":0.177,"y":0.406},{"s":"nomogram","x":0.195,"y":0.425},{"s":"nomogram","x":0.113,"y":0.558},{"s":"nomogram","x":0.113,"y":0.576},{"s":"nomogram","x":0.117,"y":0.647},{"s":"nomogram","x":0.135,"y":0.671},{"s":"nomogram","x":0.167,"y":0.633},{"s":"nomogram","x":0.186,"y":0.619},{"s":"nomogram","x":0.2,"y":0.63},{"s":"nomogram","x":0.163,"y":0.709},{"s":"nomogram","x":0.176,"y":0.737},{"s":"nomogram","x":0.195,"y":0.737},{"s":"nomogram","x":0.209,"y":0.754},{"s":"nomogram","x":0.236,"y":0.737},{"s":"nomogram","x":0.254,"y":0.728},{"s":"nomogram","x":0.268,"y":0.742},{"s":"nomogram","x":0.286,"y":0.728},{"s":"nomogram","x":0.296,"y":0.794},{"s":"nomogram","x":0.309,"y":0.803},{"s":"nomogram","x":0.337,"y":0.822},{"s":"nomogram","x":0.378,"y":0.813},{"s":"nomogram","x":0.392,"y":0.822},{"s":"nomogram","x":0.396,"y":0.836},{"s":"nomogram","x":0.414,"y":0.822},{"s":"nomogram","x":0.451,"y":0.799},{"s":"nomogram","x":0.478,"y":0.792},{"s":"nomogram","x":0.506,"y":0.796},{"s":"nomogram","x":0.543,"y":0.789},{"s":"nomogram","x":0.57,"y":0.786},{"s":"nomogram","x":0.607,"y":0.811},{"s":"nomogram","x":0.639,"y":0.799},{"s":"nomogram","x":0.671,"y":0.784},{"s":"nomogram","x":0.716,"y":0.784},{"s":"nomogram","x":0.712,"y":0.836},{"s":"nomogram","x":0.735,"y":0.841},{"s":"nomogram","x":0.753,"y":0.836},{"s":"nomogram","x":0.762,"y":0.865},{"s":"nomogram","x":0.78,"y":0.86},{"s":"nomogram","x":0.799,"y":0.888},{"s":"nomogram","x":0.835,"y":0.898},{"s":"nomogram","x":0.849,"y":0.898},{"s":"nomogram","x":0.854,"y":0.969},{"s":"nomogram","x":0.876,"y":0.974},{"s":"nomogram","x":0.899,"y":0.969},{"s":"nomogram","x":0.954,"y":0.988},{"s":"nomogram","x":0.963,"y":0.979},{"s":"nomogram","x":0.975,"y":0.985},{"s":"nomogram","x":0.99,"y":0.997},{"s":"nomogram","x":1,"y":1},
{"s":"age","x":0,"y":0},{"s":"age","x":0.012,"y":0.066},{"s":"age","x":0.021,"y":0.095},{"s":"age","x":0.039,"y":0.104},{"s":"age","x":0.048,"y":0.142},{"s":"age","x":0.058,"y":0.161},{"s":"age","x":0.085,"y":0.203},{"s":"age","x":0.099,"y":0.213},{"s":"age","x":0.122,"y":0.198},{"s":"age","x":0.126,"y":0.227},{"s":"age","x":0.145,"y":0.279},{"s":"age","x":0.177,"y":0.298},{"s":"age","x":0.241,"y":0.34},{"s":"age","x":0.25,"y":0.369},{"s":"age","x":0.273,"y":0.44},{"s":"age","x":0.305,"y":0.449},{"s":"age","x":0.341,"y":0.454},{"s":"age","x":0.378,"y":0.491},{"s":"age","x":0.405,"y":0.51},{"s":"age","x":0.419,"y":0.539},{"s":"age","x":0.442,"y":0.548},{"s":"age","x":0.478,"y":0.548},{"s":"age","x":0.533,"y":0.581},{"s":"age","x":0.57,"y":0.605},{"s":"age","x":0.597,"y":0.61},{"s":"age","x":0.62,"y":0.633},{"s":"age","x":0.625,"y":0.671},{"s":"age","x":0.634,"y":0.699},{"s":"age","x":0.671,"y":0.699},{"s":"age","x":0.707,"y":0.69},{"s":"age","x":0.735,"y":0.69},{"s":"age","x":0.744,"y":0.751},{"s":"age","x":0.773,"y":0.703},{"s":"age","x":0.776,"y":0.775},{"s":"age","x":0.799,"y":0.78},{"s":"age","x":0.822,"y":0.784},{"s":"age","x":0.835,"y":0.822},{"s":"age","x":0.849,"y":0.851},{"s":"age","x":0.863,"y":0.898},{"s":"age","x":0.881,"y":0.907},{"s":"age","x":0.89,"y":0.926},{"s":"age","x":0.909,"y":0.945},{"s":"age","x":0.927,"y":0.964},{"s":"age","x":1,"y":1},
{"s":"gender","x":0,"y":0},{"s":"gender","x":0.7,"y":0.722},{"s":"gender","x":1,"y":1},
{"s":"grade","x":0,"y":0},{"s":"grade","x":0.4,"y":0.36},{"s":"grade","x":1,"y":1},
{"s":"stage","x":0,"y":0},{"s":"stage","x":0.004,"y":0.04},{"s":"stage","x":0.125,"y":0.38},{"s":"stage","x":0.4,"y":0.658},{"s":"stage","x":1,"y":1}
],
"E":[
{"s":"nomogram","x":0,"y":0},{"s":"nomogram","x":0,"y":0.054},{"s":"nomogram","x":0.004,"y":0.077},{"s":"nomogram","x":0.011,"y":0.092},{"s":"nomogram","x":0.02,"y":0.094},{"s":"nomogram","x":0.025,"y":0.115},{"s":"nomogram","x":0.034,"y":0.125},{"s":"nomogram","x":0.038,"y":0.176},{"s":"nomogram","x":0.048,"y":0.167},{"s":"nomogram","x":0.057,"y":0.181},{"s":"nomogram","x":0.071,"y":0.181},{"s":"nomogram","x":0.075,"y":0.2},{"s":"nomogram","x":0.082,"y":0.186},{"s":"nomogram","x":0.089,"y":0.2},{"s":"nomogram","x":0.093,"y":0.238},{"s":"nomogram","x":0.098,"y":0.257},{"s":"nomogram","x":0.107,"y":0.266},{"s":"nomogram","x":0.112,"y":0.285},{"s":"nomogram","x":0.103,"y":0.379},{"s":"nomogram","x":0.116,"y":0.379},{"s":"nomogram","x":0.13,"y":0.37},{"s":"nomogram","x":0.125,"y":0.455},{"s":"nomogram","x":0.135,"y":0.469},{"s":"nomogram","x":0.148,"y":0.459},{"s":"nomogram","x":0.162,"y":0.464},{"s":"nomogram","x":0.167,"y":0.474},{"s":"nomogram","x":0.171,"y":0.521},{"s":"nomogram","x":0.18,"y":0.521},{"s":"nomogram","x":0.185,"y":0.558},{"s":"nomogram","x":0.199,"y":0.596},{"s":"nomogram","x":0.217,"y":0.634},{"s":"nomogram","x":0.24,"y":0.643},{"s":"nomogram","x":0.249,"y":0.658},{"s":"nomogram","x":0.258,"y":0.676},{"s":"nomogram","x":0.281,"y":0.695},{"s":"nomogram","x":0.304,"y":0.709},{"s":"nomogram","x":0.322,"y":0.714},{"s":"nomogram","x":0.341,"y":0.705},{"s":"nomogram","x":0.359,"y":0.714},{"s":"nomogram","x":0.386,"y":0.714},{"s":"nomogram","x":0.391,"y":0.766},{"s":"nomogram","x":0.405,"y":0.757},{"s":"nomogram","x":0.409,"y":0.79},{"s":"nomogram","x":0.423,"y":0.785},{"s":"nomogram","x":0.441,"y":0.775},{"s":"nomogram","x":0.469,"y":0.766},{"s":"nomogram","x":0.492,"y":0.804},{"s":"nomogram","x":0.515,"y":0.806},{"s":"nomogram","x":0.551,"y":0.804},{"s":"nomogram","x":0.57,"y":0.797},{"s":"nomogram","x":0.597,"y":0.804},{"s":"nomogram","x":0.625,"y":0.804},{"s":"nomogram","x":0.661,"y":0.799},{"s":"nomogram","x":0.679,"y":0.794},{"s":"nomogram","x":0.698,"y":0.792},{"s":"nomogram","x":0.716,"y":0.799},{"s":"nomogram","x":0.734,"y":0.813},{"s":"nomogram","x":0.744,"y":0.837},{"s":"nomogram","x":0.762,"y":0.846},{"s":"nomogram","x":0.785,"y":0.86},{"s":"nomogram","x":0.799,"y":0.875},{"s":"nomogram","x":0.826,"y":0.875},{"s":"nomogram","x":0.844,"y":0.865},{"s":"nomogram","x":0.863,"y":0.875},{"s":"nomogram","x":0.89,"y":0.879},{"s":"nomogram","x":0.894,"y":0.903},{"s":"nomogram","x":0.899,"y":0.884},{"s":"nomogram","x":0.918,"y":0.898},{"s":"nomogram","x":0.936,"y":0.917},{"s":"nomogram","x":0.954,"y":0.908},{"s":"nomogram","x":0.959,"y":0.964},{"s":"nomogram","x":0.968,"y":0.997},{"s":"nomogram","x":0.982,"y":0.997},{"s":"nomogram","x":1,"y":1},
{"s":"age","x":0,"y":0},{"s":"age","x":0.002,"y":0.068},{"s":"age","x":0.011,"y":0.077},{"s":"age","x":0.025,"y":0.065},{"s":"age","x":0.038,"y":0.058},{"s":"age","x":0.043,"y":0.12},{"s":"age","x":0.057,"y":0.153},{"s":"age","x":0.075,"y":0.162},{"s":"age","x":0.094,"y":0.162},{"s":"age","x":0.103,"y":0.176},{"s":"age","x":0.125,"y":0.181},{"s":"age","x":0.13,"y":0.219},{"s":"age","x":0.139,"y":0.228},{"s":"age","x":0.176,"y":0.233},{"s":"age","x":0.222,"y":0.294},{"s":"age","x":0.249,"y":0.323},{"s":"age","x":0.267,"y":0.323},{"s":"age","x":0.322,"y":0.356},{"s":"age","x":0.341,"y":0.393},{"s":"age","x":0.332,"y":0.464},{"s":"age","x":0.35,"y":0.474},{"s":"age","x":0.368,"y":0.474},{"s":"age","x":0.386,"y":0.492},{"s":"age","x":0.414,"y":0.573},{"s":"age","x":0.441,"y":0.625},{"s":"age","x":0.46,"y":0.672},{"s":"age","x":0.478,"y":0.728},{"s":"age","x":0.505,"y":0.714},{"s":"age","x":0.565,"y":0.691},{"s":"age","x":0.597,"y":0.709},{"s":"age","x":0.661,"y":0.714},{"s":"age","x":0.67,"y":0.875},{"s":"age","x":0.707,"y":0.865},{"s":"age","x":0.744,"y":0.875},{"s":"age","x":0.762,"y":0.893},{"s":"age","x":0.78,"y":0.884},{"s":"age","x":0.817,"y":0.889},{"s":"age","x":0.844,"y":0.908},{"s":"age","x":0.872,"y":0.959},{"s":"age","x":0.89,"y":0.95},{"s":"age","x":0.927,"y":0.941},{"s":"age","x":0.936,"y":0.936},{"s":"age","x":0.94,"y":0.955},{"s":"age","x":0.954,"y":0.941},{"s":"age","x":0.963,"y":0.964},{"s":"age","x":0.982,"y":0.955},{"s":"age","x":0.986,"y":0.992},{"s":"age","x":1,"y":1},
{"s":"gender","x":0,"y":0},{"s":"gender","x":0.25,"y":0.41},{"s":"gender","x":1,"y":1},
{"s":"grade","x":0,"y":0},{"s":"grade","x":0.05,"y":0.04},{"s":"grade","x":0.33,"y":0.43},{"s":"grade","x":0.8,"y":0.91},{"s":"grade","x":1,"y":1},
{"s":"stage","x":0,"y":0},{"s":"stage","x":0.003,"y":0.03},{"s":"stage","x":0.137,"y":0.425},{"s":"stage","x":0.356,"y":0.612},{"s":"stage","x":1,"y":1}
],
"F":[
{"s":"nomogram","x":0,"y":0},{"s":"nomogram","x":0,"y":0.066},{"s":"nomogram","x":0.008,"y":0.064},{"s":"nomogram","x":0.011,"y":0.113},{"s":"nomogram","x":0.02,"y":0.125},{"s":"nomogram","x":0.022,"y":0.137},{"s":"nomogram","x":0.03,"y":0.13},{"s":"nomogram","x":0.033,"y":0.161},{"s":"nomogram","x":0.045,"y":0.2},{"s":"nomogram","x":0.052,"y":0.19},{"s":"nomogram","x":0.057,"y":0.175},{"s":"nomogram","x":0.067,"y":0.226},{"s":"nomogram","x":0.074,"y":0.234},{"s":"nomogram","x":0.089,"y":0.226},{"s":"nomogram","x":0.097,"y":0.246},{"s":"nomogram","x":0.108,"y":0.258},{"s":"nomogram","x":0.119,"y":0.282},{"s":"nomogram","x":0.126,"y":0.31},{"s":"nomogram","x":0.13,"y":0.363},{"s":"nomogram","x":0.141,"y":0.326},{"s":"nomogram","x":0.134,"y":0.403},{"s":"nomogram","x":0.145,"y":0.451},{"s":"nomogram","x":0.15,"y":0.503},{"s":"nomogram","x":0.159,"y":0.503},{"s":"nomogram","x":0.168,"y":0.545},{"s":"nomogram","x":0.172,"y":0.574},{"s":"nomogram","x":0.186,"y":0.569},{"s":"nomogram","x":0.19,"y":0.602},{"s":"nomogram","x":0.204,"y":0.592},{"s":"nomogram","x":0.208,"y":0.644},{"s":"nomogram","x":0.222,"y":0.64},{"s":"nomogram","x":0.235,"y":0.663},{"s":"nomogram","x":0.258,"y":0.658},{"s":"nomogram","x":0.285,"y":0.673},{"s":"nomogram","x":0.294,"y":0.706},{"s":"nomogram","x":0.312,"y":0.725},{"s":"nomogram","x":0.338,"y":0.739},{"s":"nomogram","x":0.365,"y":0.748},{"s":"nomogram","x":0.392,"y":0.753},{"s":"nomogram","x":0.41,"y":0.758},{"s":"nomogram","x":0.417,"y":0.781},{"s":"nomogram","x":0.437,"y":0.772},{"s":"nomogram","x":0.464,"y":0.781},{"s":"nomogram","x":0.491,"y":0.776},{"s":"nomogram","x":0.527,"y":0.781},{"s":"nomogram","x":0.545,"y":0.781},{"s":"nomogram","x":0.558,"y":0.802},{"s":"nomogram","x":0.59,"y":0.795},{"s":"nomogram","x":0.626,"y":0.786},{"s":"nomogram","x":0.653,"y":0.789},{"s":"nomogram","x":0.68,"y":0.809},{"s":"nomogram","x":0.689,"y":0.819},{"s":"nomogram","x":0.715,"y":0.814},{"s":"nomogram","x":0.733,"y":0.819},{"s":"nomogram","x":0.751,"y":0.833},{"s":"nomogram","x":0.769,"y":0.852},{"s":"nomogram","x":0.783,"y":0.871},{"s":"nomogram","x":0.805,"y":0.871},{"s":"nomogram","x":0.823,"y":0.88},{"s":"nomogram","x":0.841,"y":0.875},{"s":"nomogram","x":0.859,"y":0.89},{"s":"nomogram","x":0.877,"y":0.932},{"s":"nomogram","x":0.895,"y":0.935},{"s":"nomogram","x":0.913,"y":0.942},{"s":"nomogram","x":0.93,"y":0.932},{"s":"nomogram","x":0.948,"y":0.951},{"s":"nomogram","x":0.952,"y":0.97},{"s":"nomogram","x":0.966,"y":0.979},{"s":"nomogram","x":0.988,"y":0.998},{"s":"nomogram","x":1,"y":1},
{"s":"age","x":0,"y":0},{"s":"age","x":0.003,"y":0.055},{"s":"age","x":0.01,"y":0.06},{"s":"age","x":0.022,"y":0.085},{"s":"age","x":0.037,"y":0.145},{"s":"age","x":0.06,"y":0.169},{"s":"age","x":0.097,"y":0.185},{"s":"age","x":0.119,"y":0.19},{"s":"age","x":0.126,"y":0.226},{"s":"age","x":0.141,"y":0.258},{"s":"age","x":0.171,"y":0.274},{"s":"age","x":0.195,"y":0.283},{"s":"age","x":0.231,"y":0.314},{"s":"age","x":0.253,"y":0.357},{"s":"age","x":0.285,"y":0.385},{"s":"age","x":0.32,"y":0.404},{"s":"age","x":0.343,"y":0.423},{"s":"age","x":0.365,"y":0.475},{"s":"age","x":0.383,"y":0.493},{"s":"age","x":0.41,"y":0.503},{"s":"age","x":0.437,"y":0.531},{"s":"age","x":0.464,"y":0.564},{"s":"age","x":0.491,"y":0.592},{"s":"age","x":0.527,"y":0.621},{"s":"age","x":0.554,"y":0.654},{"s":"age","x":0.558,"y":0.696},{"s":"age","x":0.608,"y":0.696},{"s":"age","x":0.644,"y":0.692},{"s":"age","x":0.68,"y":0.696},{"s":"age","x":0.72,"y":0.71},{"s":"age","x":0.724,"y":0.758},{"s":"age","x":0.742,"y":0.8},{"s":"age","x":0.751,"y":0.833},{"s":"age","x":0.778,"y":0.847},{"s":"age","x":0.805,"y":0.871},{"s":"age","x":0.823,"y":0.875},{"s":"age","x":0.841,"y":0.88},{"s":"age","x":0.877,"y":0.913},{"s":"age","x":0.913,"y":0.927},{"s":"age","x":0.93,"y":0.937},{"s":"age","x":0.948,"y":0.946},{"s":"age","x":0.966,"y":0.96},{"s":"age","x":1,"y":1},
{"s":"gender","x":0,"y":0},{"s":"gender","x":0.26,"y":0.352},{"s":"gender","x":1,"y":1},
{"s":"grade","x":0,"y":0},{"s":"grade","x":0.05,"y":0.04},{"s":"grade","x":0.8,"y":0.86},{"s":"grade","x":1,"y":1},
{"s":"stage","x":0,"y":0},{"s":"stage","x":0.004,"y":0.03},{"s":"stage","x":0.14,"y":0.405},{"s":"stage","x":0.37,"y":0.64},{"s":"stage","x":1,"y":1}
]
}
}
